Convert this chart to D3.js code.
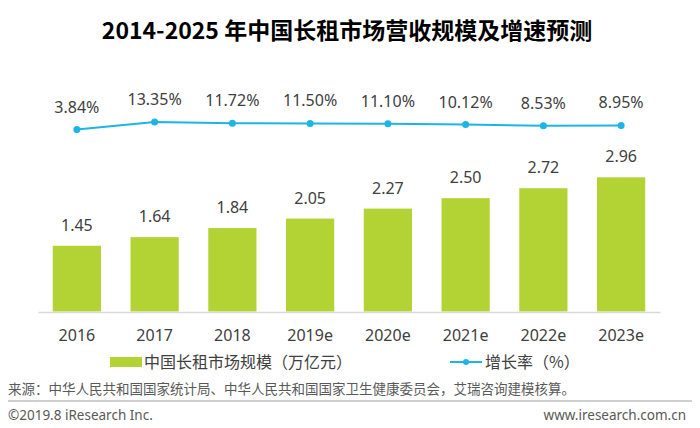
<!DOCTYPE html>
<html>
<head>
<meta charset="utf-8">
<script src="https://cdn.jsdelivr.net/npm/d3@7"></script>
<style>
html,body{margin:0;padding:0;background:#fff;}
svg{display:block;}
</style>
</head>
<body>
<svg id="chart" width="700" height="428"></svg>
<script>
const categories = ["2016","2017","2018","2019e","2020e","2021e","2022e","2023e"];
const marketSize = [1.45,1.64,1.84,2.05,2.27,2.50,2.72,2.96];
const growthRate = [3.84,13.35,11.72,11.50,11.10,10.12,8.53,8.95];
const title = "2014-2025 年中国长租市场营收规模及增速预测";
const legendBar = "中国长租市场规模（万亿元）";
const legendLine = "增长率（%）";
const sourceText = "来源：中华人民共和国国家统计局、中华人民共和国国家卫生健康委员会，艾瑞咨询建模核算。";
const footerLeft = "©2019.8 iResearch Inc.";
const footerRight = "www.iresearch.com.cn";

const green = "#b3d234", blue = "#1db5e5", textC = "#404040";
const latin = "'Noto Sans','Open Sans','Noto Sans CJK SC',sans-serif";
const cjk = "'Noto Sans CJK SC','Noto Sans',sans-serif";

const svg = d3.select("#chart");

const x = d3.scaleBand().domain(categories).range([38, 660]).paddingInner(0.38).paddingOuter(0.19);
const yBar = d3.scaleLinear().domain([0, 3]).range([311.5, 175.5]);
const yLine = d3.scaleLinear().domain([0, 20]).range([132.7, 116.5]);

// title
svg.append("text").attr("x", 347).attr("y", 39).attr("text-anchor", "middle")
  .attr("font-family", cjk).attr("font-weight", "bold").attr("font-size", 23)
  .attr("fill", "#000").text(title);

// bars
svg.append("g").selectAll("rect").data(marketSize).join("rect")
  .attr("x", (d,i) => x(categories[i]))
  .attr("y", d => yBar(d))
  .attr("width", x.bandwidth())
  .attr("height", d => yBar(0) - yBar(d))
  .attr("fill", green);

svg.append("g").selectAll("text").data(marketSize).join("text")
  .attr("x", (d,i) => x(categories[i]) + x.bandwidth()/2)
  .attr("y", d => yBar(d) - 15)
  .attr("text-anchor", "middle").attr("font-family", latin).attr("font-size", 16)
  .attr("fill", textC).text(d => d.toFixed(2));

// x axis
const xAxis = d3.axisBottom(x).tickSize(0).tickPadding(18);
const ax = svg.append("g").attr("transform", "translate(0,312)").call(xAxis);
ax.select(".domain").attr("stroke", "#d9d9d9").attr("stroke-width", 1.5);
ax.selectAll("text").attr("font-family", latin).attr("font-size", 16).attr("fill", textC);

// line
const line = d3.line().x((d,i) => x(categories[i]) + x.bandwidth()/2).y(d => yLine(d));
svg.append("path").datum(growthRate).attr("d", line)
  .attr("fill", "none").attr("stroke", blue).attr("stroke-width", 2);
svg.append("g").selectAll("circle").data(growthRate).join("circle")
  .attr("cx", (d,i) => x(categories[i]) + x.bandwidth()/2)
  .attr("cy", d => yLine(d)).attr("r", 3.5).attr("fill", blue);
svg.append("g").selectAll("text").data(growthRate).join("text")
  .attr("x", (d,i) => x(categories[i]) + x.bandwidth()/2)
  .attr("y", d => yLine(d) - 17)
  .attr("text-anchor", "middle").attr("font-family", latin).attr("font-size", 16)
  .attr("fill", textC).text(d => d.toFixed(2) + "%");

// legend
svg.append("rect").attr("x", 110).attr("y", 357).attr("width", 32).attr("height", 10).attr("fill", green);
svg.append("text").attr("x", 144).attr("y", 368).attr("font-family", cjk).attr("font-size", 16)
  .attr("fill", textC).text(legendBar);
svg.append("line").attr("x1", 450).attr("x2", 482).attr("y1", 362).attr("y2", 362)
  .attr("stroke", blue).attr("stroke-width", 2);
svg.append("circle").attr("cx", 466).attr("cy", 362).attr("r", 3).attr("fill", blue);
svg.append("text").attr("x", 485).attr("y", 368).attr("font-family", cjk).attr("font-size", 16)
  .attr("fill", textC).text(legendLine);

// source and footer
svg.append("text").attr("x", 8).attr("y", 394).attr("font-family", cjk).attr("font-size", 13.5)
  .attr("fill", "#595959").text(sourceText);
svg.append("line").attr("x1", 8).attr("x2", 692).attr("y1", 401).attr("y2", 401)
  .attr("stroke", "#bfbfbf").attr("stroke-width", 1.5);
svg.append("text").attr("x", 8).attr("y", 420).attr("font-family", latin).attr("font-size", 13.5)
  .attr("fill", "#595959").text(footerLeft);
svg.append("text").attr("x", 686).attr("y", 420).attr("text-anchor", "end").attr("font-family", latin).attr("font-size", 13.5)
  .attr("fill", "#595959").text(footerRight);
</script>
</body>
</html>
